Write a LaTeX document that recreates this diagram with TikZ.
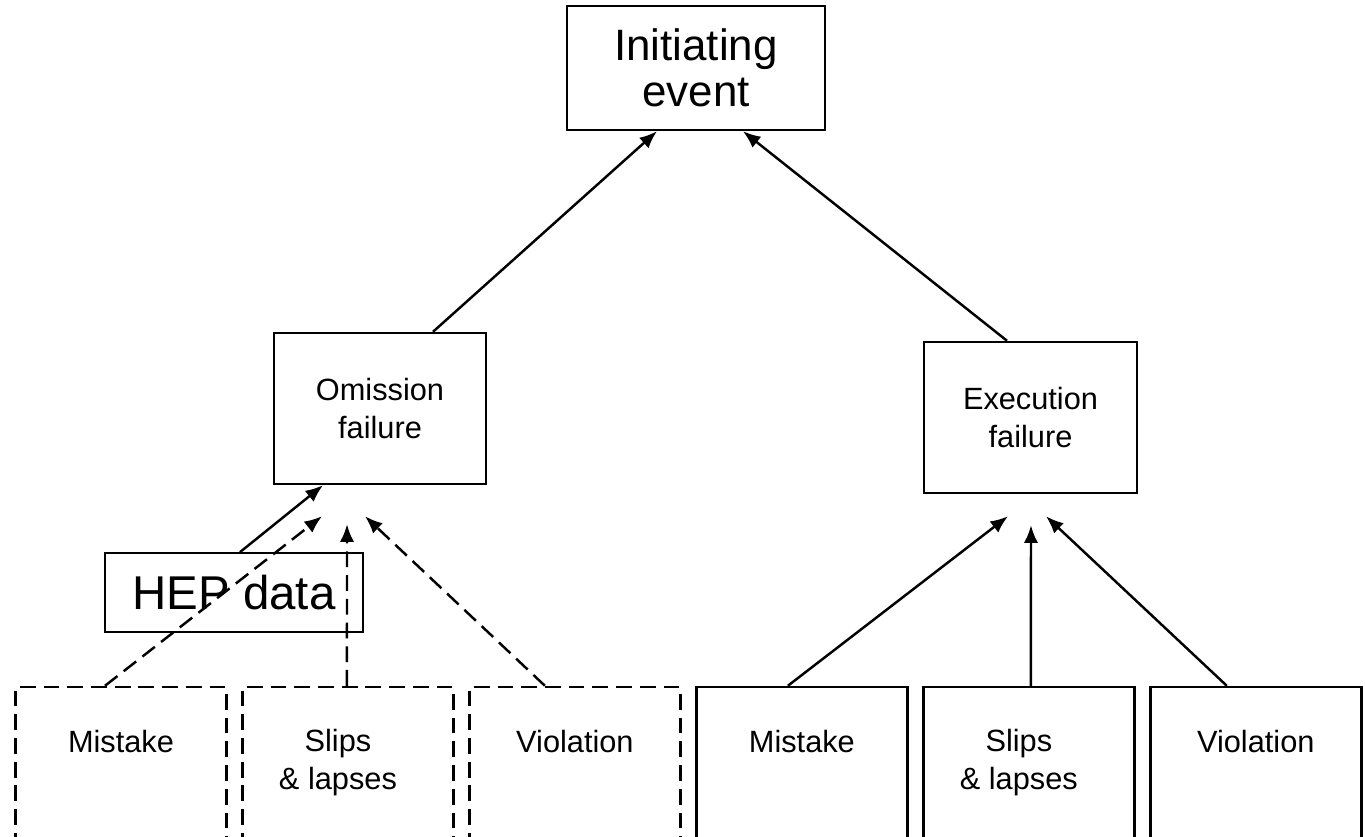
\documentclass[tikz,border=0pt]{standalone}
\usepackage{fontspec}
\setmainfont{Liberation Sans}
\usetikzlibrary{shapes,arrows.meta,positioning,calc}

\begin{document}
\begin{tikzpicture}[x=0.02cm, y=-0.02cm, node distance=4.54cm,
    box/.style={draw, rectangle, line width=1.4pt, inner sep=0pt, align=center},
    dbox/.style={box, dash pattern=on 9pt off 4.5pt},
    cell/.style={minimum width=4.22cm, minimum height=4.3cm},
    big/.style={font=\fontsize{25}{26}\selectfont},
    small/.style={font=\fontsize{17.5}{21.8}\selectfont, align=center},
    txt/.style={small, inner sep=0pt},
    arr/.style={-{Latex[length=10pt,width=8pt]}, line width=1.4pt},
    darr/.style={arr, dash pattern=on 9pt off 4.5pt}]
    \useasboundingbox (0,0) rectangle (1365,837);
    \clip (0,0) rectangle (1365,837);

    \node (init) [box, big, minimum width=5.16cm, minimum height=2.48cm] at (696,68) {Initiating\\event};
    \node (omission) [box, small, minimum width=4.24cm, minimum height=3.02cm] at (380,408.5) {Omission\\failure};
    \node (execution) [box, small, minimum width=4.26cm, minimum height=3.02cm] at (1030.5,417.5) {Execution\\failure};
    \node (hep) [box, line width=1pt, font=\fontsize{27}{30}\selectfont, minimum width=5.16cm, minimum height=1.58cm] at (234,592.5) {HEP data};

    % bottom row, left half dashed
    \node (mistL) [dbox, cell] at (121,794.5) {};
    \node (slipsL) [dbox, cell, right of=mistL] {};
    \node (violL) [dbox, cell, right of=slipsL] {};
    \node (mistR) [box, cell, right of=violL] {};
    \node (slipsR) [box, cell, right of=mistR] {};
    \node (violR) [box, cell, right of=slipsR] {};

    \node (mistLt) [txt, below=0.88cm of mistL.north] {Mistake};
    \node (slipsLt) [txt, below=0.86cm of slipsL.north, xshift=-0.2cm] {Slips\\\& lapses};
    \node (violLt) [txt, below=0.88cm of violL.north] {Violation};
    \node (mistRt) [txt, below=0.88cm of mistR.north] {Mistake};
    \node (slipsRt) [txt, below=0.86cm of slipsR.north, xshift=-0.2cm] {Slips\\\& lapses};
    \node (violRt) [txt, below=0.88cm of violR.north] {Violation};

    \draw [arr] ([xshift=1.06cm]omission.north) -- ([xshift=-0.78cm]init.south);
    \draw [arr] ([xshift=-0.47cm]execution.north) -- ([xshift=0.94cm]init.south);
    \draw [arr] ([xshift=0.12cm]hep.north) -- ([xshift=-1.14cm]omission.south);

    \draw [darr] ([xshift=-0.32cm]mistL.north) -- ([xshift=-1.16cm, yshift=-0.62cm]omission.south);
    \draw [darr] ([xshift=-0.02cm]slipsL.north) -- ([xshift=-0.66cm, yshift=-0.78cm]omission.south);
    \draw [darr] ([xshift=-0.6cm]violL.north) -- ([xshift=-0.3cm, yshift=-0.62cm]omission.south);

    \draw [arr] ([xshift=-0.28cm]mistR.north) -- ([xshift=-0.45cm, yshift=-0.44cm]execution.south);
    \draw [arr] ([xshift=0.04cm]slipsR.north) -- ([xshift=0.01cm, yshift=-0.62cm]execution.south);
    \draw [arr] ([xshift=-0.58cm]violR.north) -- ([xshift=0.31cm, yshift=-0.44cm]execution.south);
\end{tikzpicture}
\end{document}
